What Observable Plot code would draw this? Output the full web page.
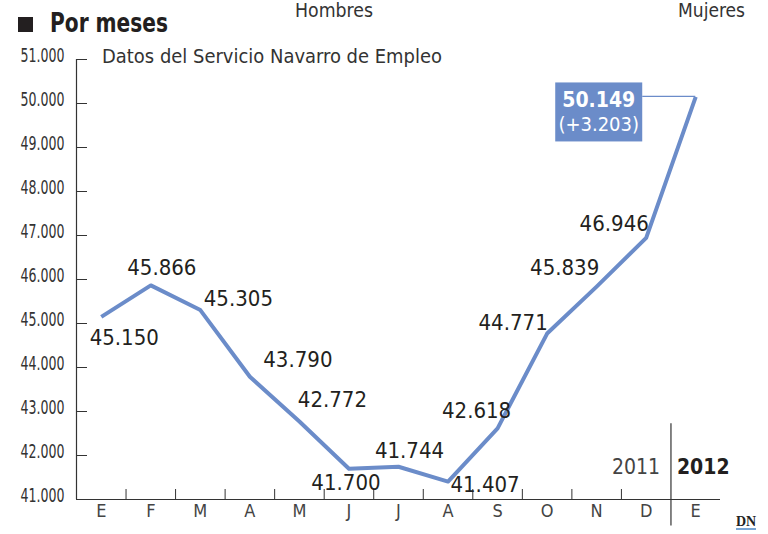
<!DOCTYPE html>
<html><head><meta charset="utf-8">
<script src="https://cdn.jsdelivr.net/npm/d3@7"></script>
<script src="https://cdn.jsdelivr.net/npm/@observablehq/plot@0.6"></script>
<style>
body{margin:0;background:#fff;}
#chart{position:relative;width:768px;height:534px;overflow:hidden;}
svg{display:block;}
</style></head><body><div id="chart"></div>
<script>
// ---- data ----
const months = ["E","F","M","A","M","J","J","A","S","O","N","D","E"];
const values = [45150,45866,45305,43790,42772,41700,41744,41407,42618,44771,45839,46946,50149];
const lastChange = "+3.203";
const yTicks = [41000,42000,43000,44000,45000,46000,47000,48000,49000,50000,51000];
const yearLabels = ["2011","2012"];
const titleText = "Por meses";
const subtitleText = "Datos del Servicio Navarro de Empleo";
const legendLabels = ["Hombres","Mujeres"];
// label placement (pixel offsets from each point)
const labelOffsets = [[23,21],[11,-17],[38,-11],[48,-17],[33,-22],[-3,14],[11,-16],[37,3],[-21,-17],[-34,-11],[-32,-19],[-32,-14]];

// ---- setup ----
const es = d3.formatLocale({decimal: ",", thousands: ".", grouping: [3], currency: ["", " €"]});
const fmt = es.format(",d");
const data = values.map((v, i) => ({i, month: months[i], v}));
const last = data[data.length - 1];
const boundaries = d3.range(0, months.length - 2).map(i => i + 0.5);
const divider = months.length - 1.5;

const W = 768, H = 534, mL = 76, mR = 48, mT = 59, mB = 35;
const frameW = W - mL - mR, frameH = H - mT - mB;
const LINE = "#6b8cc9";
const INK = "#231f20";
const COND = "'DejaVu Sans Condensed', 'DejaVu Sans', sans-serif";

const marks = [
  Plot.tickY(yTicks, {y: d => d, insetRight: frameW - 11, stroke: "#333", strokeWidth: 1}),
  Plot.ruleX([-0.5], {stroke: "#333", strokeWidth: 1.2}),
  Plot.ruleY([yTicks[0]], {stroke: "#333", strokeWidth: 1.2}),
  Plot.tickX(boundaries, {x: d => d, insetTop: frameH - 10, stroke: "#333", strokeWidth: 1}),
  Plot.ruleX([divider], {y1: 42720, y2: 40400, stroke: "#333", strokeWidth: 1.2}),
  Plot.text(yTicks, {y: d => d, text: d => fmt(d), frameAnchor: "left", textAnchor: "end", dx: -12, dy: -4, fontSize: 19, fontFamily: COND, fill: "#333", ariaDescription: "ylabels"}),
  Plot.text(data, {x: "i", text: "month", frameAnchor: "bottom", lineAnchor: "top", dy: 5, fontSize: 18, fontFamily: COND, fill: "#444"}),
  Plot.text([yearLabels[0]], {x: () => divider, text: d => d, frameAnchor: "bottom", textAnchor: "end", dx: -11, dy: -26, fontSize: 21, fontFamily: COND, fill: "#444"}),
  Plot.text([yearLabels[1]], {x: () => divider, text: d => d, frameAnchor: "bottom", textAnchor: "start", dx: 6, dy: -26, fontSize: 21, fontWeight: "bold", fontFamily: COND, fill: INK}),
  Plot.line(data, {x: "i", y: "v", stroke: LINE, strokeWidth: 4, strokeLinejoin: "round", strokeLinecap: "butt"}),
  ...data.slice(0, -1).map((d, k) => Plot.text([d], {x: "i", y: "v", text: e => fmt(e.v), dx: labelOffsets[k][0], dy: labelOffsets[k][1], fontSize: 22, fontFamily: COND, fill: INK})),
  Plot.text([last], {x: "i", y: "v", text: e => fmt(e.v), dx: -97, dy: 3, fontSize: 21, fontWeight: "bold", fontFamily: COND, fill: "#fff", ariaDescription: "callout"}),
  Plot.text([last], {x: "i", y: "v", text: () => `(${lastChange})`, dx: -97, dy: 28, fontSize: 20, fontFamily: COND, fill: "#fff", ariaDescription: "callout"})
];

const plot = Plot.plot({
  width: W, height: H,
  marginLeft: mL, marginRight: mR, marginTop: mT, marginBottom: mB,
  x: {type: "linear", domain: [-0.5, months.length - 0.5], axis: null},
  y: {domain: [yTicks[0], yTicks[yTicks.length - 1]], axis: null},
  style: {background: "#fff", overflow: "visible"},
  marks
});
document.getElementById("chart").appendChild(plot);

// narrow y tick labels
plot.querySelectorAll('g[aria-description="ylabels"] text').forEach(t => {
  t.setAttribute("textLength", 44);
  t.setAttribute("lengthAdjust", "spacingAndGlyphs");
});

// ---- callout box and connector ----
const svg = d3.select(plot);
const px = plot.scale("x").apply(last.i), py = plot.scale("y").apply(last.v);
const firstCallout = plot.querySelector('g[aria-description="callout"]');
const box = document.createElementNS("http://www.w3.org/2000/svg", "g");
plot.insertBefore(box, firstCallout);
d3.select(box).append("line").attr("x1", px - 53).attr("x2", px).attr("y1", py).attr("y2", py)
  .attr("stroke", LINE).attr("stroke-width", 1.2);
d3.select(box).append("rect").attr("x", px - 140).attr("y", py - 14).attr("width", 87).attr("height", 59)
  .attr("fill", LINE);

// ---- titles ----
const deco = svg.append("g").attr("text-anchor", "start");
deco.append("rect").attr("x", 18).attr("y", 17).attr("width", 15).attr("height", 15).attr("fill", INK);
deco.append("text").attr("x", 50).attr("y", 32).text(titleText)
  .attr("font-family", COND).attr("font-weight", "bold").attr("font-size", 26).attr("fill", INK)
  .attr("textLength", 118).attr("lengthAdjust", "spacingAndGlyphs");
deco.append("text").attr("x", 102).attr("y", 63).text(subtitleText)
  .attr("font-family", COND).attr("font-size", 20).attr("fill", "#333")
  .attr("textLength", 340).attr("lengthAdjust", "spacingAndGlyphs");
deco.append("text").attr("x", 295).attr("y", 17).text(legendLabels[0])
  .attr("font-family", COND).attr("font-size", 19).attr("fill", "#333")
  .attr("textLength", 78).attr("lengthAdjust", "spacingAndGlyphs");
deco.append("text").attr("x", 678).attr("y", 17).text(legendLabels[1])
  .attr("font-family", COND).attr("font-size", 19).attr("fill", "#333")
  .attr("textLength", 67).attr("lengthAdjust", "spacingAndGlyphs");
deco.append("text").attr("x", 736).attr("y", 526).text("DN")
  .attr("font-family", "'Liberation Serif', 'DejaVu Serif', serif").attr("font-weight", "bold")
  .attr("font-size", 14).attr("fill", "#222");
deco.append("line").attr("x1", 736).attr("x2", 756).attr("y1", 529).attr("y2", 529)
  .attr("stroke", "#4a86c5").attr("stroke-width", 1.5);
</script>
</body></html>
